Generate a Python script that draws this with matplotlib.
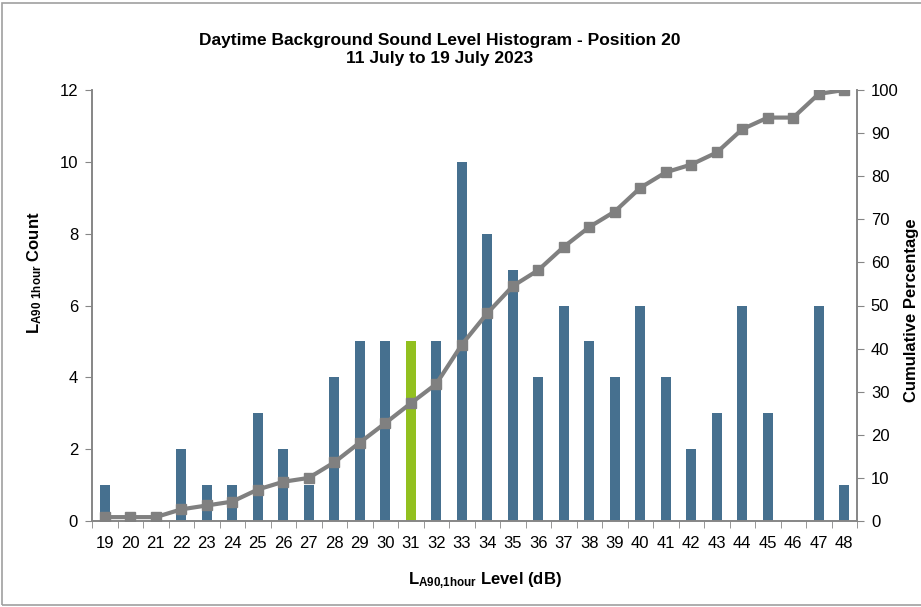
import matplotlib
matplotlib.use("Agg")
import matplotlib.pyplot as plt
from matplotlib.patches import Rectangle

# Histogram data: background sound level bins and hourly counts
levels = [19, 20, 21, 22, 23, 24, 25, 26, 27, 28, 29, 30, 31, 32, 33,
          34, 35, 36, 37, 38, 39, 40, 41, 42, 43, 44, 45, 46, 47, 48]
counts = [1, 0, 0, 2, 1, 1, 3, 2, 1, 4, 5, 5, 5, 5, 10,
          8, 7, 4, 6, 5, 4, 6, 4, 2, 3, 6, 3, 0, 6, 1]
cumulative_pct = [0.9, 0.9, 0.9, 2.7, 3.6, 4.5, 7.3, 9.1, 10.0, 13.6, 18.2, 22.7, 27.3, 31.8, 40.9,
                  48.2, 54.5, 58.2, 63.6, 68.2, 71.8, 77.3, 80.9, 82.7, 85.5, 90.9, 93.6, 93.6, 99.1, 100.0]
highlight_level = 31

left_ticks = [0, 2, 4, 6, 8, 10, 12]
right_ticks = [0, 10, 20, 30, 40, 50, 60, 70, 80, 90, 100]

plt.rcParams['font.family'] = ['Liberation Sans', 'DejaVu Sans']
plt.rcParams['mathtext.fontset'] = 'custom'
plt.rcParams['mathtext.rm'] = 'Liberation Sans:bold'
plt.rcParams['mathtext.bf'] = 'Liberation Sans:bold'

bar_color = '#46708f'
hi_color = '#92c01f'
line_color = '#808080'
axis_color = '#868686'

W, H = 921, 607
fig = plt.figure(figsize=(W / 100, H / 100), dpi=100)
ax = fig.add_axes([92 / W, 1 - 521 / H, (857 - 92) / W, (521 - 90) / H])
ax2 = ax.twinx()

x = list(range(len(levels)))
colors = [hi_color if lv == highlight_level else bar_color for lv in levels]
ax.bar(x, counts, width=0.4, color=colors, zorder=2)
ax.set_xlim(-0.5, len(levels) - 0.5)
ax.set_ylim(0, 12)
ax.set_yticks(left_ticks)
ax.set_xticks(x)
ax.set_xticklabels([str(v) for v in levels])
ax.set_xticks([i - 0.5 for i in range(len(levels) + 1)], minor=True)
ax.tick_params(axis='x', which='major', length=0, pad=11, labelsize=12)
ax.tick_params(axis='x', which='minor', length=5, direction='out', color=axis_color)
ax.tick_params(axis='y', length=5, direction='out', color=axis_color, labelsize=12, pad=5)

ax2.plot(x, cumulative_pct, color=line_color, lw=3, marker='s', ms=6.5, zorder=3)
ax2.set_ylim(0, 100)
ax2.set_yticks(right_ticks)
ax2.tick_params(axis='y', length=5, direction='out', color=axis_color, labelsize=12, pad=5)

for a in (ax, ax2):
    a.spines['top'].set_visible(False)
    for side in ('left', 'right', 'bottom'):
        a.spines[side].set_color(axis_color)
        a.spines[side].set_linewidth(1.2)

def fx(px):
    return px / W

def fy(py):
    return 1 - py / H

fig.text(fx(35), fy(273), r"$\mathregular{L_{A90\ 1hour}}$ Count", rotation=90,
         ha='center', va='center', fontsize=12, fontweight='bold')
fig.text(fx(911), fy(310), "Cumulative Percentage", rotation=90,
         ha='center', va='center', fontsize=12, fontweight='bold')
fig.text(fx(485), fy(581), r"$\mathregular{L_{A90{,}1hour}}$ Level (dB)",
         ha='center', va='center', fontsize=12, fontweight='bold')

fig.text(fx(440), fy(40), "Daytime Background Sound Level Histogram - Position 20",
         ha='center', va='center', fontsize=12.5, fontweight='bold')
fig.text(fx(440), fy(58), "11 July to 19 July 2023",
         ha='center', va='center', fontsize=12.5, fontweight='bold')

fig.patches.append(Rectangle((fx(2), fy(605)), (930 - 2) / W, (605 - 3) / H,
                             transform=fig.transFigure, fill=False,
                             edgecolor='#a0a0a0', lw=1.2))

fig.savefig("out.png", dpi=100)
